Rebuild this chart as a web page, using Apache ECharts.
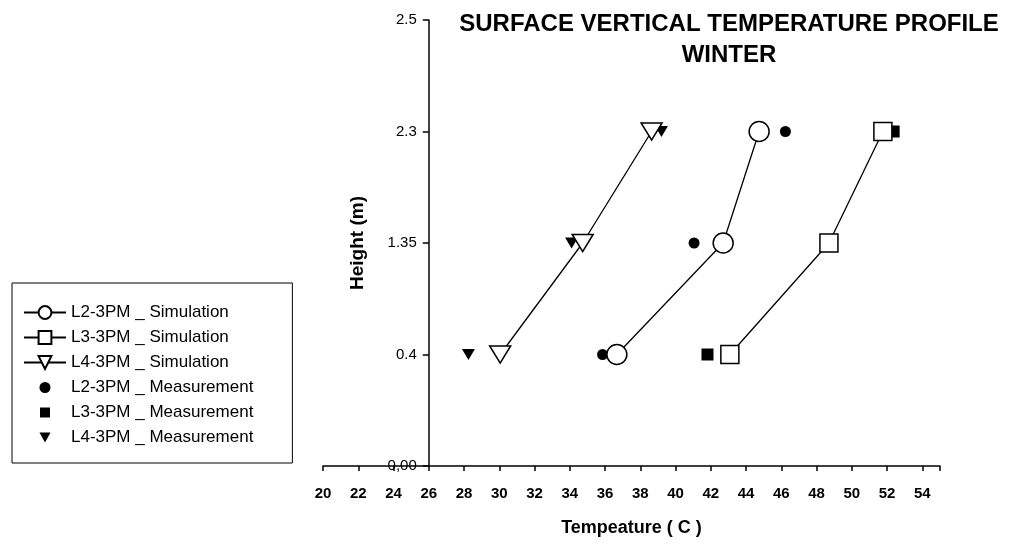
<!DOCTYPE html>
<html lang="en">
<head>
<meta charset="UTF-8">
<title>surface vertical temperature profile</title>
<script src="https://cdn.jsdelivr.net/npm/echarts@6/dist/echarts.min.js"></script>
<style>
  body { margin: 0; background: #fff; }
  #main { width: 1010px; height: 550px; }
</style>
</head>
<body>
<div id="main"></div>
<script>
// height ticks are spaced evenly in the original, so treat them as categories
var heightTicks = ['0,00', '0.4', '1.35', '2.3', '2.5'];
var heights = ['0.4', '1.35', '2.3'];

// temperatures (C) at each height
var l2Sim = [36.67, 42.70, 44.74];
var l3Sim = [43.08, 48.70, 51.76];
var l4Sim = [30.05, 34.73, 38.64];
var l2Meas = [35.86, 41.05, 46.23];
var l3Meas = [41.81, 48.59, 52.37];
var l4Meas = [28.25, 34.10, 39.20];

var xMin = 20, xMax = 55, xStep = 2;
var yAxisAt = 26; // where the height axis crosses the temperature axis

var font = 'Liberation Sans, Arial, sans-serif';
var downTri = 'path://M0,0L20,0L10,18Z';
var square = 'path://M0,0L10,0L10,10L0,10Z';
// legend icons for the filled markers, padded so they come out smaller than the row
var dotIcon = 'path://M0,0M16,16M13.5,8A5.5,5.5,0,1,1,2.5,8A5.5,5.5,0,1,1,13.5,8Z';
var squareIcon = 'path://M0,0M16,16M3,3L13,3L13,13L3,13Z';
var triIcon = 'path://M0,0M16,16M2.5,3L13.5,3L8,13Z';

function pts(temps) {
    return temps.map(function (t, i) { return [t, heights[i]]; });
}

function simSeries(name, temps, symbol, size) {
    return {
        name: name,
        type: 'line',
        data: pts(temps),
        symbol: symbol,
        symbolSize: size,
        symbolKeepAspect: true,
        showAllSymbol: true,
        lineStyle: { color: '#000', width: 1.3 },
        itemStyle: { color: '#fff', borderColor: '#000', borderWidth: 1.5 },
        emphasis: { disabled: true }
    };
}

function measSeries(name, temps, symbol, size) {
    return {
        name: name,
        type: 'scatter',
        data: pts(temps),
        symbol: symbol,
        symbolSize: size,
        symbolKeepAspect: true,
        itemStyle: { color: '#000', opacity: 1 },
        emphasis: { disabled: true }
    };
}

var myChart = echarts.init(document.getElementById('main'));

var option = {
    animation: false,
    backgroundColor: '#fff',
    title: {
        text: 'SURFACE VERTICAL TEMPERATURE PROFILE\nWINTER',
        left: 724,
        top: 4,
        textAlign: 'center',
        textStyle: { fontFamily: font, fontSize: 24, fontWeight: 'bold', color: '#000', lineHeight: 31 }
    },
    legend: {
        orient: 'vertical',
        left: 12,
        top: 283,
        padding: [21, 39, 17, 11],
        itemGap: 8,
        itemWidth: 42,
        itemHeight: 16,
        borderColor: '#000',
        borderWidth: 1,
        textStyle: { fontFamily: font, fontSize: 17, color: '#000', lineHeight: 16 },
        data: [
            'L2-3PM _ Simulation', 'L3-3PM _ Simulation', 'L4-3PM _ Simulation',
            { name: 'L2-3PM _ Measurement', icon: dotIcon },
            { name: 'L3-3PM _ Measurement', icon: squareIcon },
            { name: 'L4-3PM _ Measurement', icon: triIcon }
        ]
    },
    grid: { left: 323, right: 70, top: 20, bottom: 84, containLabel: false },
    xAxis: {
        type: 'value',
        min: xMin,
        max: xMax,
        interval: xStep,
        name: 'Tempeature ( C )',
        nameLocation: 'middle',
        nameGap: 53,
        nameTextStyle: { fontFamily: font, fontSize: 18, fontWeight: 'bold', color: '#000' },
        axisLine: { show: true, onZero: false, lineStyle: { color: '#000', width: 1.5 } },
        axisTick: { show: true, length: 5, lineStyle: { color: '#000', width: 1.5 } },
        axisLabel: {
            margin: 20,
            fontFamily: font, fontSize: 15, fontWeight: 'bold', color: '#000',
            formatter: function (v) { return v % xStep === 0 ? String(v) : ''; }
        },
        splitLine: { show: false }
    },
    yAxis: {
        type: 'category',
        data: heightTicks,
        boundaryGap: false,
        name: 'Height (m)',
        nameLocation: 'middle',
        nameRotate: 90,
        nameGap: 62,
        nameTextStyle: { fontFamily: font, fontSize: 19, fontWeight: 'bold', color: '#000' },
        axisLine: { show: true, onZero: false, lineStyle: { color: '#000', width: 1.5 } },
        axisTick: { length: 6, lineStyle: { color: '#000', width: 1.5 } },
        axisLabel: { margin: 12, fontFamily: font, fontSize: 15, color: '#000' },
        splitLine: { show: false }
    },
    series: [
        simSeries('L2-3PM _ Simulation', l2Sim, 'circle', 20),
        simSeries('L3-3PM _ Simulation', l3Sim, 'rect', 18),
        simSeries('L4-3PM _ Simulation', l4Sim, downTri, [21, 19]),
        measSeries('L2-3PM _ Measurement', l2Meas, 'circle', 11),
        measSeries('L3-3PM _ Measurement', l3Meas, square, 12),
        measSeries('L4-3PM _ Measurement', l4Meas, downTri, [13, 12])
    ]
};

myChart.setOption(option);

// move the height axis so it sits at x = 26 instead of the grid edge
var axisPx = myChart.convertToPixel({ xAxisIndex: 0 }, yAxisAt);
var edgePx = myChart.convertToPixel({ xAxisIndex: 0 }, xMin);
myChart.setOption({ yAxis: { offset: -(axisPx - edgePx) } });
</script>
</body>
</html>
